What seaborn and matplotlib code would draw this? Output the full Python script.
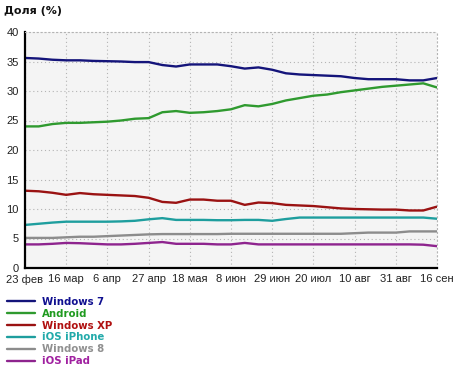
import matplotlib
matplotlib.use("Agg")
import matplotlib.pyplot as plt
from matplotlib.lines import Line2D
import numpy as np
import pandas as pd
import seaborn as sns

tick_labels = ["23 фев", "16 мар", "6 апр", "27 апр", "18 мая", "8 июн",
               "29 июн", "20 июл", "10 авг", "31 авг", "16 сен"]
weeks = list(range(31))

windows7 = [35.6, 35.5, 35.3, 35.2, 35.2, 35.1, 35.05, 35.0, 34.9, 34.9,
            34.4, 34.15, 34.5, 34.5, 34.5, 34.2, 33.8, 34.0, 33.6, 33.0,
            32.8, 32.7, 32.6, 32.5, 32.2, 32.0, 32.0, 32.0, 31.8, 31.8, 32.2]
android = [24.0, 24.0, 24.4, 24.6, 24.6, 24.7, 24.8, 25.0, 25.3, 25.4,
           26.4, 26.6, 26.3, 26.4, 26.6, 26.9, 27.6, 27.4, 27.8, 28.4,
           28.8, 29.2, 29.4, 29.8, 30.1, 30.4, 30.7, 30.9, 31.1, 31.3, 30.6]
windows_xp = [13.1, 13.0, 12.75, 12.4, 12.7, 12.5, 12.4, 12.3, 12.2, 11.9,
              11.2, 11.05, 11.6, 11.6, 11.4, 11.4, 10.7, 11.1, 11.0, 10.7,
              10.6, 10.5, 10.3, 10.1, 10.0, 9.95, 9.9, 9.9, 9.75, 9.75, 10.4]
ios_iphone = [7.3, 7.5, 7.7, 7.85, 7.85, 7.85, 7.85, 7.9, 8.0, 8.25,
              8.45, 8.15, 8.15, 8.15, 8.1, 8.1, 8.15, 8.15, 8.0, 8.3,
              8.55, 8.55, 8.55, 8.55, 8.55, 8.55, 8.55, 8.55, 8.55, 8.55, 8.35]
windows8 = [5.1, 5.1, 5.1, 5.2, 5.3, 5.3, 5.4, 5.5, 5.6, 5.7,
            5.75, 5.75, 5.75, 5.75, 5.75, 5.8, 5.8, 5.8, 5.8, 5.8,
            5.8, 5.8, 5.8, 5.8, 5.9, 6.0, 6.0, 6.0, 6.2, 6.2, 6.2]
ios_ipad = [4.0, 4.0, 4.1, 4.25, 4.2, 4.1, 4.0, 4.0, 4.1, 4.25,
            4.4, 4.1, 4.1, 4.1, 4.0, 4.0, 4.25, 4.0, 4.0, 4.0,
            4.0, 4.0, 4.0, 4.0, 4.0, 4.0, 4.0, 4.0, 4.0, 3.95, 3.7]

series_names = ["Windows 7", "Android", "Windows XP", "iOS iPhone", "Windows 8", "iOS iPad"]
series_values = [windows7, android, windows_xp, ios_iphone, windows8, ios_ipad]
line_colors = ["#14147a", "#2f9a2f", "#9a1212", "#1e9e9e", "#8c8c8c", "#8e248e"]
text_colors = ["#101090", "#1f9a1f", "#b01010", "#22aaaa", "#909090", "#a020a0"]

df = pd.concat(
    [pd.DataFrame({"week": weeks, "value": v, "series": n})
     for n, v in zip(series_names, series_values)],
    ignore_index=True)

sns.set_style("white")
plt.rcParams["font.family"] = ["Liberation Sans", "DejaVu Sans"]

fig = plt.figure(figsize=(4.6, 3.7), dpi=100)
ax = fig.add_axes([25 / 460, 1 - 268 / 370, 412 / 460, 236 / 370])
ax.set_facecolor("#f4f4f4")

sns.lineplot(data=df, x="week", y="value", hue="series", hue_order=series_names,
             palette=dict(zip(series_names, line_colors)), linewidth=1.7,
             ax=ax, legend=False)

ax.set_xlim(0, 30)
ax.set_ylim(0, 40)
ax.set_xticks(range(0, 31, 3))
ax.set_xticklabels(tick_labels)
ax.set_yticks(range(0, 41, 5))
ax.set_xlabel("")
ax.set_ylabel("")
ax.grid(True, linestyle=(0, (1, 2.5)), color="#b4b4b4", linewidth=0.8)
ax.set_axisbelow(True)
for s in ["top", "right"]:
    ax.spines[s].set_visible(True)
    ax.spines[s].set_linestyle((0, (1, 2.5)))
    ax.spines[s].set_color("#b4b4b4")
    ax.spines[s].set_linewidth(0.8)
for s in ["left", "bottom"]:
    ax.spines[s].set_color("black")
    ax.spines[s].set_linewidth(1.6)
ax.tick_params(axis="both", which="both", direction="out", length=3, width=1,
               color="black", labelsize=8, pad=1.5, labelcolor="#222222")

fig.text(4 / 460, 1 - 11 / 370, "Доля (%)", fontsize=8, fontweight="bold",
         family=["DejaVu Sans"], va="center", ha="left", color="#111111")

handles = [Line2D([0], [0], color=c, lw=1.7) for c in line_colors]
leg = fig.legend(handles, series_names, loc="upper left",
                 bbox_to_anchor=(7 / 460, 1 - 297 / 370), frameon=False,
                 prop={"family": "DejaVu Sans", "weight": "bold", "size": 7.3},
                 handlelength=2.75, handletextpad=0.7, labelspacing=0.18,
                 borderaxespad=0, borderpad=0)
for t, c in zip(leg.get_texts(), text_colors):
    t.set_color(c)

fig.savefig("out.png", dpi=100)
